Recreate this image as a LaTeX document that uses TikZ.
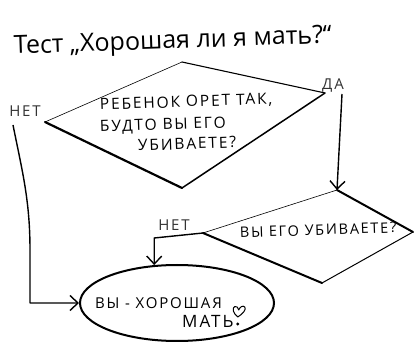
\documentclass[tikz,border=0pt]{standalone}
\usepackage{fontspec}
\setmainfont{Open Sans}
\newfontfamily\hand[LetterSpace=12]{Open Sans}
\usetikzlibrary{arrows.meta,shapes.geometric}
\begin{document}
\begin{tikzpicture}[x=1pt,y=-1pt,
  edge/.style={line join=round, line cap=round},
  conn/.style={line width=1.4pt, line join=round, -{Straight Barb[length=8pt,width=15pt,line width=1.4pt]}},
  lbl/.style={font=\hand\fontsize{15}{16}\selectfont, inner sep=0pt, text=black!80},
  txt/.style={font=\hand\fontsize{15.5}{19}\selectfont, inner sep=0pt, anchor=base west}]
\useasboundingbox (0,0) rectangle (416,342);
% title
\node[font=\fontsize{25}{27}\selectfont, rotate=2, anchor=base west, inner sep=0pt] (title) at (14,54) {Тест „Хорошая ли я мать?“};
% diamond 1 corners
\coordinate (d1t) at (182,62);
\coordinate (d1r) at (325,93);
\coordinate (d1b) at (182,188);
\coordinate (d1l) at (45,122);
\draw[edge, line width=1.1pt] (d1t) -- (d1r);
\draw[edge, line width=1.5pt] (d1r) -- (d1b);
\draw[edge, line width=2.2pt] (d1b) -- (d1l);
\draw[edge, line width=0.6pt] (d1l) -- (d1t);
\node[txt, rotate=2] (q1a) at (100,110) {РЕБЕНОК ОРЕТ ТАК,};
\node[txt, rotate=2] (q1b) at (100,132) {БУДТО ВЫ ЕГО};
\node[txt, rotate=2] (q1c) at (138,151) {УБИВАЕТЕ?};
% diamond 2 corners
\coordinate (d2t) at (337,190);
\coordinate (d2r) at (413,232);
\coordinate (d2b) at (322,283);
\coordinate (d2l) at (203,233);
\draw[edge, line width=2pt] (d2t) -- (d2r);
\draw[edge, line width=1pt] (d2r) -- (d2b);
\draw[edge, line width=2pt] (d2b) -- (d2l);
\draw[edge, line width=0.6pt] (d2l) -- (d2t);
\node[txt, font=\hand\fontsize{14.5}{18}\selectfont, rotate=2] (q2) at (240,238) {ВЫ ЕГО УБИВАЕТЕ?};
% end ellipse
\node[ellipse, draw, line width=2pt, minimum width=194pt, minimum height=76pt, inner sep=0pt] (ell) at (177,303) {};
\node[txt, font=\hand\fontsize{15}{18}\selectfont] (res1) at (95,309) {ВЫ - ХОРОШАЯ};
\node[txt, font=\hand\fontsize{17}{18}\selectfont] (res2) at (182,328) {МАТЬ};
\begin{scope}[shift={(res2.base east)}]
  \draw[line width=1pt, line join=round] (4,-11) .. controls (-1,-15) and (-2,-20) .. (1,-21.5)
    .. controls (3,-22.5) and (4.5,-20) .. (5,-18)
    .. controls (6,-21) and (9,-23) .. (11,-21)
    .. controls (13,-19) and (9,-14) .. (4,-11);
  \fill (4,-4) circle (1.6pt);
\end{scope}
% labels
\node[lbl] (no1) at (25,111) {НЕТ};
\node[lbl] (yes1) at (333,86) {ДА};
\node[lbl] (no2) at (174,225) {НЕТ};
% connectors
\coordinate (ya) at (342,94);
\draw[conn] (ya) -- (d2t);
\coordinate (k2) at (153,238);
\draw[conn] (d2l) -- (ell.121 |- k2) -- (ell.121);
\coordinate (na) at (13,125);
\coordinate (nb) at (30,250);
\draw[conn] (na) .. controls (22,170) and (30,200) .. (nb) |- (ell.west);
\end{tikzpicture}
\end{document}
